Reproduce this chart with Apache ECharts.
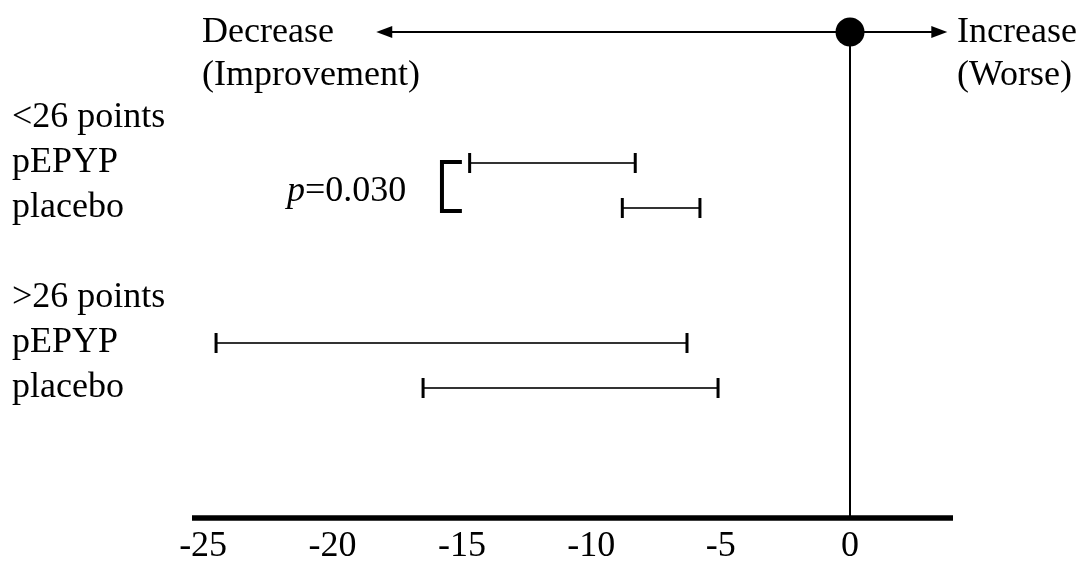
<!DOCTYPE html>
<html>
<head>
<meta charset="utf-8">
<script src="https://cdn.jsdelivr.net/npm/echarts@6/dist/echarts.min.js"></script>
<style>
html,body{margin:0;padding:0;background:#fff;}
#chart{width:1083px;height:565px;}
</style>
</head>
<body>
<div id="chart"></div>
<script>
// ---- data ----
const groups = ["<26 points", ">26 points"];
const arms = ["pEPYP", "placebo"];
// 95% CI bounds, order: group0-pEPYP, group0-placebo, group1-pEPYP, group1-placebo
const lower = [-14.7, -8.8, -24.5, -16.5];
const upper = [-8.3, -5.8, -6.3, -5.1];
const xTickValues = [-25, -20, -15, -10, -5, 0];
const pText = "0.030";
const topLabels = ["Decrease\n(Improvement)", "Increase\n(Worse)"];

// row layout (row index on an inverted y value axis)
const rowLabels = [];
const labelRows = [];
const ciData = [];
groups.forEach((g, gi) => {
  const base = gi * 4;
  rowLabels[base] = g; labelRows.push(base);
  arms.forEach((a, ai) => {
    const r = base + 1 + ai;
    rowLabels[r] = a; labelRows.push(r);
    const k = gi * arms.length + ai;
    ciData.push([r, lower[k], upper[k]]);
  });
});

const FONT = '"Liberation Serif", "Times New Roman", serif';
const FS = 36;
const yMin = -1.9111, yMax = 8.8889;
const xMin = -25.43, xMax = 3.98;

const chart = echarts.init(document.getElementById('chart'), null, {renderer: 'canvas'});

const option = {
  animation: false,
  backgroundColor: '#fff',
  grid: {left: 192, right: 130, top: 32, bottom: 47, containLabel: false},
  xAxis: {
    type: 'value', min: xMin, max: xMax,
    axisLine: {show: true, onZero: false, lineStyle: {color: '#000', width: 5.5, cap: 'butt'}},
    axisTick: {show: false},
    splitLine: {show: false},
    axisLabel: {
      customValues: xTickValues,
      formatter: v => String(v),
      color: '#000', fontFamily: FONT, fontSize: FS, margin: 11
    }
  },
  yAxis: {
    type: 'value', inverse: true, min: yMin, max: yMax,
    axisLine: {show: false}, axisTick: {show: false}, splitLine: {show: false},
    axisLabel: {
      customValues: labelRows,
      formatter: v => rowLabels[Math.round(v)] || '',
      align: 'left', margin: 180,
      color: '#000', fontFamily: FONT, fontSize: FS,
      padding: [4, 0, 0, 0]
    }
  },
  series: [
    {
      type: 'custom',
      data: ciData,
      encode: {x: [1, 2], y: 0},
      renderItem: function (params, api) {
        const p1 = api.coord([api.value(1), api.value(0)]);
        const p2 = api.coord([api.value(2), api.value(0)]);
        const h = 10;
        return {
          type: 'group',
          children: [
            {type: 'line', shape: {x1: p1[0], y1: p1[1], x2: p2[0], y2: p2[1]},
             style: {stroke: '#333', lineWidth: 2}},
            {type: 'line', shape: {x1: p1[0], y1: p1[1] - h, x2: p1[0], y2: p1[1] + h},
             style: {stroke: '#000', lineWidth: 3}},
            {type: 'line', shape: {x1: p2[0], y1: p2[1] - h, x2: p2[0], y2: p2[1] + h},
             style: {stroke: '#000', lineWidth: 3}}
          ]
        };
      },
      markLine: {
        silent: true, symbol: 'none', label: {show: false},
        lineStyle: {color: '#000', width: 2, type: 'solid', opacity: 1},
        data: [{xAxis: 0}]
      }
    },
    {
      type: 'line', data: [], silent: true,
      markLine: {
        silent: true,
        symbol: ['triangle', 'triangle'],
        symbolSize: [12, 16],
        label: {show: false},
        lineStyle: {color: '#000', width: 2, type: 'solid', opacity: 1},
        data: [[{coord: [-18.0, yMin]}, {coord: [3.45, yMin]}]]
      }
    },
    {
      type: 'scatter', clip: false, z: 10, zlevel: 1,
      data: [[0, yMin]],
      symbol: 'circle', symbolSize: 29,
      itemStyle: {color: '#000', opacity: 1}
    }
  ]
};
chart.setOption(option);

// annotations
const pA = chart.convertToPixel({gridIndex: 0}, [-15.77, 1]);
const pB = chart.convertToPixel({gridIndex: 0}, [-15.0, 2]);
const pC = chart.convertToPixel({gridIndex: 0}, [-21.9, 1.5]);
chart.setOption({
  graphic: [
    {type: 'text', left: 202, top: 11,
     style: {text: topLabels[0], font: FS + 'px ' + FONT, lineHeight: 43, fill: '#000'}},
    {type: 'text', left: 957, top: 11,
     style: {text: topLabels[1], font: FS + 'px ' + FONT, lineHeight: 43, fill: '#000'}},
    {type: 'polyline',
     shape: {points: [[pB[0], pA[1] - 1], [pA[0], pA[1] - 1], [pA[0], pB[1] + 3], [pB[0], pB[1] + 3]]},
     style: {stroke: '#000', lineWidth: 4, fill: null}},
    {type: 'text', x: 287, y: pC[1] + 6,
     style: {
       text: '{i|p}{n|=' + pText + '}',
       verticalAlign: 'middle',
       rich: {
         i: {fontFamily: FONT, fontSize: FS, fontStyle: 'italic', fill: '#000'},
         n: {fontFamily: FONT, fontSize: FS, fill: '#000'}
       }
     }}
  ]
});
</script>
</body>
</html>
